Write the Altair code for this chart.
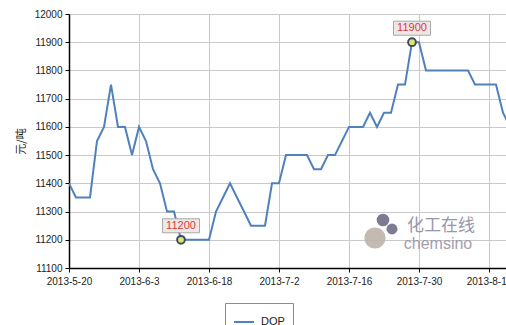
import altair as alt
import pandas as pd

# ---- data -------------------------------------------------------------
dates = [
    "2013-5-20", "2013-5-21", "2013-5-22", "2013-5-23", "2013-5-24",
    "2013-5-27", "2013-5-28", "2013-5-29", "2013-5-30", "2013-5-31",
    "2013-6-3", "2013-6-4", "2013-6-5", "2013-6-6", "2013-6-7",
    "2013-6-8", "2013-6-9", "2013-6-13", "2013-6-14", "2013-6-17",
    "2013-6-18", "2013-6-19", "2013-6-20", "2013-6-21", "2013-6-24",
    "2013-6-25", "2013-6-26", "2013-6-27", "2013-6-28", "2013-7-1",
    "2013-7-2", "2013-7-3", "2013-7-4", "2013-7-5", "2013-7-8",
    "2013-7-9", "2013-7-10", "2013-7-11", "2013-7-12", "2013-7-15",
    "2013-7-16", "2013-7-17", "2013-7-18", "2013-7-19", "2013-7-22",
    "2013-7-23", "2013-7-24", "2013-7-25", "2013-7-26", "2013-7-29",
    "2013-7-30", "2013-7-31", "2013-8-1", "2013-8-2", "2013-8-5",
    "2013-8-6", "2013-8-7", "2013-8-8", "2013-8-9", "2013-8-12",
    "2013-8-13", "2013-8-14", "2013-8-15", "2013-8-16",
]
dop = [
    11400, 11350, 11350, 11350, 11550, 11600, 11750, 11600, 11600, 11500,
    11600, 11550, 11450, 11400, 11300, 11300, 11200, 11200, 11200, 11200,
    11200, 11300, 11350, 11400, 11350, 11300, 11250, 11250, 11250, 11400,
    11400, 11500, 11500, 11500, 11500, 11450, 11450, 11500, 11500, 11550,
    11600, 11600, 11600, 11650, 11600, 11650, 11650, 11750, 11750, 11900,
    11900, 11800, 11800, 11800, 11800, 11800, 11800, 11800, 11750, 11750,
    11750, 11750, 11650, 11600,
]
series_name = "DOP"
tick_index = [0, 10, 20, 30, 40, 50, 60]
y_ticks = [11100, 11200, 11300, 11400, 11500, 11600, 11700, 11800, 11900, 12000]
marked_index = [16, 49]   # min and max points that carry a label

df = pd.DataFrame({"idx": list(range(len(dop))), "date": dates, "value": dop,
                   "series": [series_name] * len(dop)})
marks_df = df.iloc[marked_index].copy()
marks_df["label"] = marks_df["value"].astype(str)

LINE = "#4f81bd"
FONT = "Liberation Sans"

label_expr = "[" + ",".join("'%s'" % d for d in dates) + "][datum.value]"

x_enc = alt.X("idx:Q",
              scale=alt.Scale(domain=[0, 62.43], nice=False, zero=False),
              axis=alt.Axis(values=tick_index, labelExpr=label_expr, title=None,
                            grid=True, labelFlush=False, labelOverlap=False,
                            labelBound=False))
y_enc = alt.Y("value:Q",
              scale=alt.Scale(domain=[11100, 12000], nice=False, zero=False),
              axis=alt.Axis(values=y_ticks, format="d", title="元/吨", grid=True,
                            labelOverlap=False, labelFlush=False, labelBound=False))

line = alt.Chart(df).mark_line(strokeWidth=2, clip=True).encode(
    x=x_enc, y=y_enc,
    color=alt.Color("series:N", scale=alt.Scale(domain=[series_name], range=[LINE]),
                    legend=alt.Legend(title=None, orient="none", legendX=156, legendY=289,
                                      symbolType="stroke", symbolSize=400,
                                      symbolStrokeWidth=2,
                                      labelExpr="datum.label + '\u00a0\u00a0\u00a0\u00a0\u00a0'",
                                      labelFont=FONT, labelFontSize=11, labelColor="#222",
                                      strokeColor="#8a8a8a", fillColor="white",
                                      padding=8, labelOffset=6)),
)

box_path = "M-1,-0.38L1,-0.38L1,0.38L-1,0.38Z"
boxes = alt.Chart(marks_df).mark_point(
    shape=box_path, size=1369, filled=True, fill="#efe6e6", stroke="#a9a9a9",
    strokeWidth=1, opacity=1, yOffset=-14,
).encode(x=x_enc, y=y_enc)

texts = alt.Chart(marks_df).mark_text(
    color="#d83a3a", font=FONT, fontSize=11, yOffset=-14,
).encode(x=x_enc, y=y_enc, text="label:N")

dots = alt.Chart(marks_df).mark_point(
    shape="circle", size=60, filled=True, fill="#dfe56c", stroke="#3c4a68",
    strokeWidth=2, opacity=1,
).encode(x=x_enc, y=y_enc)

# watermark (decoration)
wm = pd.DataFrame({"k": [0]})
wm_big = alt.Chart(wm).mark_point(shape="circle", size=450, filled=True,
                                  color="#bdb3a8", opacity=0.9).encode(
    x=alt.value(306), y=alt.value(224))
wm_d1 = alt.Chart(wm).mark_point(shape="circle", size=160, filled=True,
                                 color="#6f6b88", opacity=0.9).encode(
    x=alt.value(314), y=alt.value(206))
wm_d2 = alt.Chart(wm).mark_point(shape="circle", size=120, filled=True,
                                 color="#6f6b88", opacity=0.9).encode(
    x=alt.value(323), y=alt.value(215))
wm_t1 = alt.Chart(wm).mark_text(text="化工在线", font="Noto Sans CJK SC", fontSize=17,
                                color="#8f8ba2", opacity=0.9).encode(
    x=alt.value(372), y=alt.value(212))
wm_t2 = alt.Chart(wm).mark_text(text="chemsino", font=FONT, fontSize=16,
                                color="#9995aa", opacity=0.9).encode(
    x=alt.value(369), y=alt.value(230))

chart = alt.layer(
    line, boxes, texts, dots, wm_big, wm_d1, wm_d2, wm_t1, wm_t2
).properties(
    width=437, height=254,
    autosize=alt.AutoSizeParams(type="none"),
    padding={"left": 69, "top": 14, "right": 0, "bottom": 57},
).configure_view(stroke=None).configure_axis(
    labelFont=FONT, labelFontSize=10, labelColor="#222",
    titleFont="Noto Sans CJK SC", titleFontSize=11, titleColor="#222",
    titleFontWeight="normal", labelOverlap=False,
    domainColor="#000", domainWidth=1.5, tickColor="#000", tickSize=4,
    gridColor="#c9c9c9", gridWidth=1,
).configure_axisY(labelPadding=3, titlePadding=8).configure_axisX(labelPadding=4)

chart.save("out.html", embed_options={"renderer": "svg", "actions": False})
